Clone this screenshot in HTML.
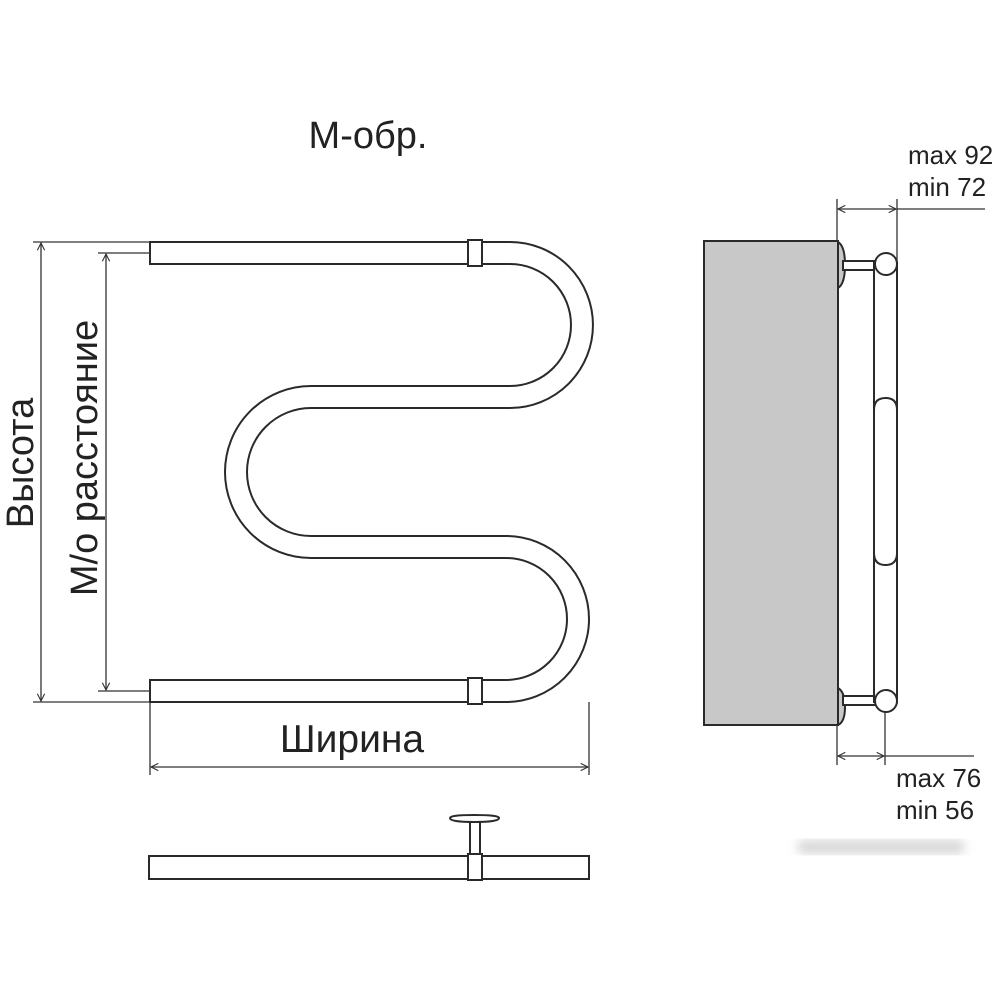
<!DOCTYPE html>
<html><head><meta charset="utf-8"><style>
html,body{margin:0;padding:0;background:#fff;}
svg{display:block;}
text{font-family:"Liberation Sans",Arial,sans-serif;fill:#222;}
</style></head><body>
<svg width="1000" height="1000" viewBox="0 0 1000 1000" xmlns="http://www.w3.org/2000/svg">
<defs>
<marker id="a" viewBox="0 0 10 10" refX="9" refY="5" markerWidth="7" markerHeight="7" orient="auto-start-reverse"><path d="M1,1 L9,5 L1,9" fill="none" stroke="#333" stroke-width="1.2"/></marker>
<filter id="bl"><feGaussianBlur stdDeviation="5"/></filter>
</defs>
<g stroke="#2a2a2a" stroke-width="2" fill="none">
<path d="M150,242 L510,242 A83,83 0 0 1 510,408 L311,408 A64,64 0 0 0 311,536 L506,536 A83,83 0 0 1 506,702 L150,702"/>
<path d="M150,264 L510,264 A61,61 0 0 1 510,386 L311,386 A86,86 0 0 0 311,558 L506,558 A61,61 0 0 1 506,680 L150,680"/>
<line x1="150" y1="241" x2="150" y2="265"/>
<line x1="150" y1="679" x2="150" y2="703"/>
<rect x="468" y="240" width="14" height="26" fill="#fff"/>
<rect x="468" y="678" width="14" height="26" fill="#fff"/>
</g>
<g stroke="#333" stroke-width="1.3" fill="none">
<line x1="33" y1="242" x2="150" y2="242"/>
<line x1="98" y1="253" x2="150" y2="253"/>
<line x1="33" y1="702" x2="150" y2="702"/>
<line x1="98" y1="691" x2="150" y2="691"/>
<line x1="41" y1="243" x2="41" y2="701" marker-start="url(#a)" marker-end="url(#a)"/>
<line x1="106" y1="254" x2="106" y2="690" marker-start="url(#a)" marker-end="url(#a)"/>
<line x1="150" y1="702" x2="150" y2="775"/>
<line x1="589" y1="702" x2="589" y2="775"/>
<line x1="151" y1="767" x2="588" y2="767" marker-start="url(#a)" marker-end="url(#a)"/>
</g>
<text x="368" y="148" font-size="38" text-anchor="middle">М-обр.</text>
<text x="352" y="752" font-size="39" text-anchor="middle">Ширина</text>
<text transform="translate(33,463) rotate(-90)" font-size="38" text-anchor="middle">Высота</text>
<text transform="translate(97,458) rotate(-90)" font-size="38" text-anchor="middle">М/о расстояние</text>
<g stroke="#2a2a2a" stroke-width="2" fill="#fff">
<rect x="149" y="856" width="440" height="23"/>
<rect x="470" y="821" width="10" height="35"/>
<path d="M450,818 Q450,815 474,815 Q499,815 499,818 Q499,822 474,822 Q450,822 450,818 Z"/>
<rect x="468" y="854" width="14" height="26"/>
</g>
<rect x="704" y="241" width="134" height="484" fill="#c8c8c8" stroke="#2a2a2a" stroke-width="2"/>
<g stroke="#2a2a2a" stroke-width="2" fill="#fff">
<path d="M838,242 Q845,246 845,265 Q845,284 838,288 Z" fill="#c8c8c8"/>
<path d="M838,688 Q845,692 845,707 Q845,722 838,725 Z" fill="#c8c8c8"/>
<rect x="843" y="261" width="33" height="9"/>
<rect x="843" y="696" width="33" height="9"/>
<rect x="874" y="262" width="23" height="440"/>
<path d="M874,410 Q874,398 885.5,398 Q897,398 897,410 L897,553 Q897,565 885.5,565 Q874,565 874,553 Z"/>
<ellipse cx="886" cy="264" rx="11" ry="11"/>
<ellipse cx="886" cy="701" rx="11" ry="11"/>
</g>
<g stroke="#333" stroke-width="1.3" fill="none">
<line x1="837" y1="199" x2="837" y2="241"/>
<line x1="897" y1="199" x2="897" y2="262"/>
<line x1="838" y1="209" x2="896" y2="209" marker-start="url(#a)" marker-end="url(#a)"/>
<line x1="897" y1="209" x2="985" y2="209"/>
<line x1="837" y1="725" x2="837" y2="765"/>
<line x1="885" y1="712" x2="885" y2="765"/>
<line x1="838" y1="756" x2="884" y2="756" marker-start="url(#a)" marker-end="url(#a)"/>
<line x1="885" y1="756" x2="974" y2="756"/>
</g>
<text x="908" y="164" font-size="26">max 92</text>
<text x="908" y="196" font-size="26">min 72</text>
<text x="896" y="787" font-size="26">max 76</text>
<text x="896" y="819" font-size="26">min 56</text>
<rect x="797" y="840" width="168" height="14" rx="7" fill="#d8d8d8" filter="url(#bl)"/>
</svg>
</body></html>
